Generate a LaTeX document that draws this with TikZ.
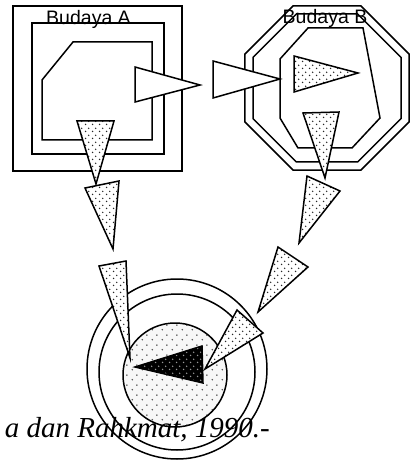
\documentclass[tikz,border=0pt]{standalone}
\usepackage{fontspec}
\setmainfont{Liberation Serif}
\newfontfamily\labelfont{Liberation Sans}
\usetikzlibrary{patterns.meta}

\tikzdeclarepattern{
  name=fdots,
  type=uncolored,
  bounding box={(0pt,0pt) and (7pt,7pt)},
  tile size={(7pt,7pt)},
  code={
    \pgfpathcircle{\pgfpoint{1.75pt}{1.75pt}}{0.9pt}
    \pgfpathcircle{\pgfpoint{5.25pt}{5.25pt}}{0.9pt}
    \pgfusepath{fill}
  }
}
\tikzdeclarepattern{
  name=wdots,
  type=uncolored,
  bounding box={(0pt,0pt) and (10pt,10pt)},
  tile size={(10pt,10pt)},
  code={
    \pgfpathcircle{\pgfpoint{2.5pt}{2.5pt}}{0.9pt}
    \pgfpathcircle{\pgfpoint{7.5pt}{7.5pt}}{0.9pt}
    \pgfusepath{fill}
  }
}

\tikzset{
  wall/.style={draw, line width=1.5pt},
  pin/.style={wall, fill=white},
  dotpin/.style={wall, preaction={fill=white}, pattern=fdots, pattern color=black!85},
  core/.style={wall, preaction={fill=black}, pattern=fdots, pattern color=white!60!black},
  budaya/.style={font=\labelfont\fontsize{19.5}{22}\selectfont, inner sep=0pt, anchor=base},
}

\begin{document}
\begin{tikzpicture}[x=1pt, y=-1pt]
  \useasboundingbox (0,0) rectangle (409,462);
  \draw[wall] (13,6) rectangle (182,171);
  \draw[wall] (32,23) rectangle (164,154);
  \draw[wall] (73,42) -- (152,42) -- (152,140) -- (42,140) -- (42,80) -- cycle;
  \node[budaya] (ta) at (88.5,25) {Budaya A};
  \draw[wall] (327,88) +(22.5:88.8) \foreach \a in {67.5,112.5,...,337.5} { -- +(\a:88.8) } -- cycle;
  \draw[wall] (327,88) +(22.5:80.1) \foreach \a in {67.5,112.5,...,337.5} { -- +(\a:80.1) } -- cycle;
  \draw[wall] (308,28) -- (363,28) -- (380,118) -- (352,148) -- (298,148) -- (280,118) -- (280,59) -- cycle;
  \node[budaya] (tb) at (325,24) {Budaya B};
  \draw[pin] (135,67) -- (135,102) -- (200,85) -- cycle;
  \draw[pin] (213,61) -- (213,98) -- (280,79) -- cycle;
  \draw[dotpin] (294,56) -- (294,92) -- (358,73) -- cycle;
  \draw[dotpin] (77,121) -- (114,121) -- (96,184) -- cycle;
  \draw[dotpin] (303,113) -- (339,112) -- (325,178) -- cycle;
  \draw[wall] (177,369) circle (90);
  \draw[wall] (177,372) circle (78);
  \draw[wall, preaction={fill=black!3}, pattern=wdots, pattern color=black!70] (175,375) circle (52);
  \draw[core] (135,367) -- (202,346) -- (203,383) -- cycle;
  \draw[dotpin] (85,188) -- (119,181) -- (113,249) -- cycle;
  \draw[dotpin] (99,266) -- (126,261) -- (130,358) -- cycle;
  \draw[dotpin] (307,176) -- (340,191) -- (299,243) -- cycle;
  \draw[dotpin] (278,247) -- (308,267) -- (258,312) -- cycle;
  \draw[dotpin] (237,310) -- (263,333) -- (205,369) -- cycle;
  \node[font=\itshape\fontsize{29}{32}\selectfont, anchor=base east, inner sep=0pt] (src) at (270,437) {a dan Rahkmat, 1990.-};
\end{tikzpicture}
\end{document}
